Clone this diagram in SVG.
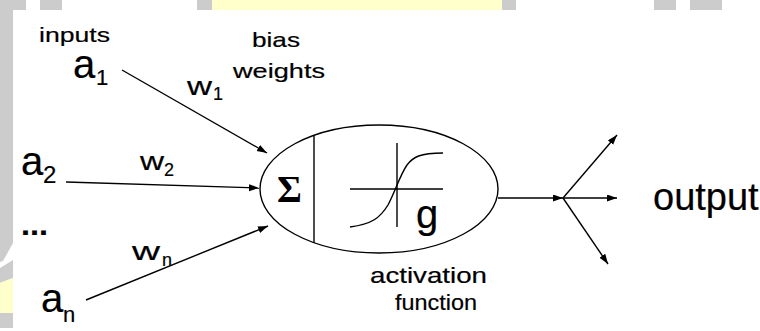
<svg xmlns="http://www.w3.org/2000/svg" width="760" height="331" viewBox="0 0 760 331">
<style>
.t{font-family:"Liberation Sans",Arial,sans-serif;fill:#000;stroke:#000;stroke-width:0.2}
.ln{stroke:#000;stroke-width:1.4;fill:none}
.gr{fill:#cccccc}
.yl{fill:#ffffcc}
</style>
<defs>
<marker id="ah" markerUnits="userSpaceOnUse" markerWidth="11" markerHeight="8" refX="10" refY="3.5" orient="auto">
<path d="M0,0 L10,3.5 L0,7 z" fill="#000"/>
</marker>
</defs>
<rect width="760" height="331" fill="#fff"/>
<g id="background">
<rect class="gr" x="0" y="0" width="26" height="10"/>
<rect class="gr" x="40" y="0" width="22" height="10"/>
<rect class="gr" x="197" y="0" width="15" height="10"/>
<rect class="yl" x="212" y="0" width="290" height="10"/>
<rect class="gr" x="502" y="0" width="14" height="10"/>
<rect class="gr" x="654" y="0" width="22" height="10"/>
<rect class="gr" x="690" y="0" width="32" height="10"/>
<polygon class="gr" points="0,10 13,10 13,243 3,261 0,262"/>
<polygon class="gr" points="0,268 13,260 13,278 0,283"/>
<polygon class="yl" points="0,283 13,278 13,313 0,313"/>
<rect class="gr" x="0" y="313" width="13" height="15"/>
</g>
<g id="inputs-label"><text class="t" x="39" y="42" font-size="21" textLength="71" lengthAdjust="spacingAndGlyphs">inputs</text></g>
<g id="input-a1"><text class="t" x="73" y="78" font-size="40">a</text><text class="t" x="96" y="85" font-size="22">1</text></g>
<g id="input-a2"><text class="t" x="21" y="175" font-size="40">a</text><text class="t" x="43" y="183" font-size="24">2</text></g>
<g id="input-dots"><text class="t" x="21" y="235" font-size="30" font-weight="bold" textLength="27" lengthAdjust="spacingAndGlyphs">...</text></g>
<g id="input-an"><text class="t" x="41" y="312" font-size="40">a</text><text class="t" x="63" y="322" font-size="22">n</text></g>
<g id="bias-weights-label"><text class="t" x="252" y="47" font-size="21" textLength="48" lengthAdjust="spacingAndGlyphs">bias</text><text class="t" x="233" y="78" font-size="21" textLength="92" lengthAdjust="spacingAndGlyphs">weights</text></g>
<g id="weight-w1"><text class="t" x="187" y="95" font-size="26" textLength="25" lengthAdjust="spacingAndGlyphs">w</text><text class="t" x="213" y="100" font-size="18">1</text></g>
<g id="weight-w2"><text class="t" x="140" y="170" font-size="26" textLength="24" lengthAdjust="spacingAndGlyphs">w</text><text class="t" x="164" y="176" font-size="18">2</text></g>
<g id="weight-wn"><text class="t" x="132" y="260" font-size="26" textLength="28" lengthAdjust="spacingAndGlyphs">w</text><text class="t" x="162" y="266" font-size="18">n</text></g>
<g id="neuron">
<ellipse class="ln" cx="379" cy="189" rx="119" ry="64"/>
<line class="ln" x1="314" y1="135" x2="314" y2="243"/>
<text x="277" y="202" font-size="38" font-weight="bold" font-family="'Liberation Serif','Times New Roman',serif">Σ</text>
<line class="ln" x1="350" y1="189" x2="443" y2="189"/>
<line class="ln" x1="397" y1="143" x2="397" y2="227"/>
<path class="ln" d="M350,227 C372,224 380,218 388,205 C395,192 400,175 407,165 C413,157 420,153 443,153"/>
<text class="t" x="416" y="228" font-size="40">g</text>
</g>
<g id="activation-label"><text class="t" x="370" y="283" font-size="22" textLength="117" lengthAdjust="spacingAndGlyphs">activation</text><text class="t" x="395" y="310" font-size="22" textLength="82" lengthAdjust="spacingAndGlyphs">function</text></g>
<g id="output-label"><text class="t" x="653" y="210" font-size="38">output</text></g>
<g id="connectors">
<line class="ln" x1="122" y1="70" x2="267" y2="153" marker-end="url(#ah)"/>
<line class="ln" x1="66" y1="182" x2="259" y2="188" marker-end="url(#ah)"/>
<line class="ln" x1="86" y1="300" x2="268" y2="226" marker-end="url(#ah)"/>
<line class="ln" x1="498" y1="198" x2="563" y2="198" marker-end="url(#ah)"/>
<line class="ln" x1="563" y1="198" x2="617" y2="198" marker-end="url(#ah)"/>
<line class="ln" x1="563" y1="198" x2="617" y2="135" marker-end="url(#ah)"/>
<line class="ln" x1="563" y1="198" x2="608" y2="264" marker-end="url(#ah)"/>
</g>
</svg>
